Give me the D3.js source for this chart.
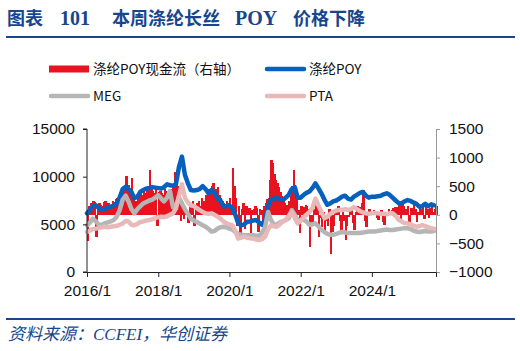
<!DOCTYPE html>
<html lang="zh">
<head>
<meta charset="UTF-8">
<title>本周涤纶长丝 POY 价格下降</title>
<script src="https://d3js.org/d3.v7.min.js"></script>
<style>
  body, html { margin: 0; padding: 0; background: #fff; overflow: hidden; }
  .axis text { font-family: "Liberation Sans", Arial, sans-serif; font-size: 15.5px; fill: #111; }
  .legend text { font-family: "Noto Sans CJK SC", sans-serif; font-size: 13.5px; fill: #111; }
</style>
</head>
<body>
<div id="chart"></div>
<script>
// monthly series, 2016/1 .. 2025/10
var poy = [6150,6500,6900,7000,6700,6550,6600,6800,6850,6950,7200,7800,
  8700,8950,8700,8400,7750,7900,8400,8600,8750,8800,8900,8850,
  8800,8750,8900,9200,9100,9050,9200,11000,12100,10200,9300,8600,
  8550,8600,8700,9000,8700,8250,8600,8300,7700,7500,6900,6900,
  7000,6700,6000,5100,4900,5000,5260,5300,5400,5450,5200,4950,
  5500,6900,7600,7700,7750,7600,7550,7800,8100,8700,8900,7800,
  7800,8100,8300,8450,8800,9300,8800,8250,7600,7050,7200,7400,
  7500,7700,7900,8000,7700,7600,7900,8100,8300,8400,8000,7800,
  7900,7900,7950,8000,8150,8250,8100,7800,7500,7250,7200,7400,
  7550,7450,7300,7150,6850,6900,7150,6900,7100,7000];

var meg = [4900,5200,5600,5300,4950,4950,5100,5200,5300,5450,5800,6500,
  7600,8000,7400,6600,6150,6600,6900,7200,7350,7500,7600,7800,
  8050,7700,7400,7800,8500,6800,6900,7800,7200,6600,6100,5600,
  5400,5250,5100,4900,4750,4500,4250,4300,4550,4700,4750,4700,
  4550,4450,4200,4000,3900,3850,3850,3850,3850,3800,3800,4100,
  4750,6300,5500,4950,5000,5200,5300,5450,5650,6500,6000,5400,
  5400,5500,5300,4950,5000,5100,4800,4450,4200,4000,3900,3900,
  4000,4100,4200,4150,4100,4100,4100,4100,4100,4150,4200,4250,
  4250,4250,4300,4350,4400,4450,4400,4400,4450,4500,4550,4600,
  4600,4500,4350,4250,4200,4250,4300,4250,4250,4300];

var pta = [4200,4350,4500,4550,4600,4700,4750,4700,4750,4800,4850,4950,
  5100,5350,5300,4950,4900,5050,5250,5300,5400,5450,5550,5650,
  5750,5800,5750,5850,6000,6150,6650,8000,9200,7800,7300,7000,
  6900,6700,6500,6300,6150,6100,6150,6000,5800,5600,5300,5100,
  5000,4900,4300,3500,3600,3700,3600,3550,3500,3400,3350,3450,
  3700,4500,4900,4800,4750,5000,5300,5500,5900,6300,5700,5100,
  5400,5750,6000,6300,6700,7700,7000,6300,5650,5800,6100,6300,
  6450,6500,6500,6600,6500,6600,6800,6600,6400,6250,6150,6100,
  6150,6200,6150,6100,6100,6050,6150,6150,5900,5500,5300,5150,
  5100,5000,4850,4750,4800,4930,4800,4700,4600,4550];

// half-monthly cash flow (right axis)
var cashFlow = [-450,150, 200,180, 250,220, -380,150, 200,180, 150,220,
  250,150, 200,100, 180,250, 220,280, 300,250, 400,350,
  450,500, 680,400, 520,450, 650,300, 220,250, 350,380,
  400,350, 420,380, 450,500, 780,450, 420,380, 450,-200,
  400,420, 380,350, 450,420, 400,350, 300,450, 500,750,
  650,500, 200,-100, 150,-80, 100,50, -150,200, 150,250,
  -200,180, 200,250, 150,300, 250,200, 350,400, 450,300,
  500,550, 400,450, 480,350, 300,250, 200,150, 250,200,
  300,150, 820,500, 300,-200, 150,-380, 100,200, -250,150,
  100,120, -350,80, 100,150, 120,-300, 100,80, -100,150,
  200,280, 300,600, 950,900, 720,600, 550,480, 400,320,
  250,200, 180,160, 250,320, 500,780, 430,300, 80,-320,
  150,120, 140,180, 150,100, -560,-200, -150,100, 260,150,
  -380,-50, -210,50, -300,-100, -200,100, -680,-300, -200,80,
  80,150, -100,-325, 50,-100, -440,-200, -35,80, 100,-150,
  -270,50, 150,100, 140,200, 430,-100, -210,50, 100,20,
  20,80, 50,-50, -90,50, 80,-120, -180,30, 50,100,
  50,80, 120,140, 140,100, 200,-100, 200,150, 80,100,
  150,-150, 120,50, 230,100, -120,50, 150,100, 200,-80,
  150,100, -60,120, 170,50, 100,150];

var leftTicks = [0, 5000, 10000, 15000];
var rightTicks = [-1000, -500, 0, 500, 1000, 1500];
var xTickYears = [2016, 2018, 2020, 2022, 2024];
var legendNames = ["涤纶POY现金流（右轴）", "涤纶POY", "MEG", "PTA"];

var colors = { cash: "#E8131E", poy: "#0660BE", meg: "#B5B5B5", pta: "#E8B9B9" };
var navy = "#17468C";

var months = poy.map(function(d, i) { return new Date(2016, i, 1); });
var halfMonths = cashFlow.map(function(d, i) { return new Date(2016, Math.floor(i / 2), i % 2 ? 16 : 1); });

var W = 520, H = 351;
var plot = { left: 87, right: 436, top: 129, bottom: 272 };

var svg = d3.select("#chart").append("svg")
  .attr("width", W).attr("height", H);

// title
var title = svg.append("g")
  .attr("font-family", "'Noto Sans CJK SC', sans-serif")
  .attr("font-weight", 700)
  .attr("font-size", 18)
  .attr("fill", navy);
title.append("text").attr("x", 7).attr("y", 25).text("图表");
title.append("text").attr("x", 60).attr("y", 25).attr("font-family", "'Liberation Serif', serif").attr("font-size", 20).text("101");
title.append("text").attr("x", 112).attr("y", 25).text("本周涤纶长丝");
title.append("text").attr("x", 235).attr("y", 25).attr("font-family", "'Liberation Serif', serif").attr("font-size", 20).text("POY");
title.append("text").attr("x", 293).attr("y", 25).text("价格下降");

svg.append("line").attr("x1", 6).attr("x2", 515).attr("y1", 37).attr("y2", 37)
  .attr("stroke", navy).attr("stroke-width", 2);

// scales
var x = d3.scaleTime()
  .domain([new Date(2016, 0, 1), new Date(2025, 9, 20)])
  .range([plot.left, plot.right]);
var yL = d3.scaleLinear().domain([0, 15000]).range([plot.bottom, plot.top]);
var yR = d3.scaleLinear().domain([-1000, 1500]).range([plot.bottom, plot.top]);

// cash flow bars
var bw = (x(new Date(2016, 0, 16)) - x(new Date(2016, 0, 1))) + 1;
svg.append("g").attr("shape-rendering", "crispEdges").selectAll("rect")
  .data(cashFlow)
  .enter().append("rect")
  .attr("x", function(d, i) { return x(halfMonths[i]) - 0.5; })
  .attr("width", bw)
  .attr("y", function(d) { return yR(Math.max(0, d)); })
  .attr("height", function(d) { return Math.abs(yR(d) - yR(0)); })
  .attr("fill", colors.cash);

// lines
function drawLine(values, color) {
  var line = d3.line()
    .x(function(d, i) { return x(months[i]); })
    .y(function(d) { return yL(d); });
  svg.append("path")
    .datum(values)
    .attr("d", line)
    .attr("fill", "none")
    .attr("stroke", color)
    .attr("stroke-width", 4.5)
    .attr("stroke-linejoin", "round")
    .attr("stroke-linecap", "round");
}
drawLine(poy, colors.poy);
drawLine(meg, colors.meg);
drawLine(pta, colors.pta);

// axes
var gL = svg.append("g").attr("class", "axis")
  .attr("transform", "translate(" + plot.left + ",0)")
  .call(d3.axisLeft(yL).tickValues(leftTicks).tickSize(4).tickPadding(8).tickFormat(d3.format("d")));
gL.selectAll("path, line").attr("stroke", "#222");

var gR = svg.append("g").attr("class", "axis")
  .attr("transform", "translate(" + plot.right + ",0)")
  .call(d3.axisRight(yR).tickValues(rightTicks).tickSize(4).tickPadding(9).tickFormat(d3.format("d")));
gR.selectAll("path, line").attr("stroke", "#999");

var gX = svg.append("g").attr("class", "axis")
  .attr("transform", "translate(0," + plot.bottom + ")")
  .call(d3.axisBottom(x)
    .tickValues(xTickYears.map(function(yr) { return new Date(yr, 0, 1); }))
    .tickSize(5).tickPadding(8)
    .tickFormat(function(d) { return d.getFullYear() + "/1"; }));
gX.selectAll("path, line").attr("stroke", "#222");
gL.select(".domain").attr("d", "M-4," + plot.top + "H0V" + plot.bottom + "H-4");

// legend
var legend = svg.append("g").attr("class", "legend");
var items = [
  { name: legendNames[0], color: colors.cash, x: 49, y: 69, bar: true },
  { name: legendNames[1], color: colors.poy, x: 265, y: 69 },
  { name: legendNames[2], color: colors.meg, x: 49, y: 96 },
  { name: legendNames[3], color: colors.pta, x: 265, y: 96 }
];
items.forEach(function(it) {
  if (it.bar) {
    legend.append("rect").attr("x", it.x).attr("y", it.y - 3.5).attr("width", 40).attr("height", 7).attr("fill", it.color);
  } else {
    legend.append("line").attr("x1", it.x + 2).attr("x2", it.x + 39).attr("y1", it.y).attr("y2", it.y)
      .attr("stroke", it.color).attr("stroke-width", 4.5).attr("stroke-linecap", "round");
  }
  legend.append("text").attr("x", it.x + 44).attr("y", it.y + 5).text(it.name);
});

// footer
svg.append("line").attr("x1", 6).attr("x2", 515).attr("y1", 319).attr("y2", 319)
  .attr("stroke", navy).attr("stroke-width", 2);
svg.append("text")
  .attr("x", 8).attr("y", 340)
  .attr("font-family", "'Liberation Serif', 'Noto Sans CJK SC', serif")
  .attr("font-style", "italic")
  .attr("font-size", 17)
  .attr("fill", navy)
  .text("资料来源：CCFEI，华创证券");
</script>
</body>
</html>
